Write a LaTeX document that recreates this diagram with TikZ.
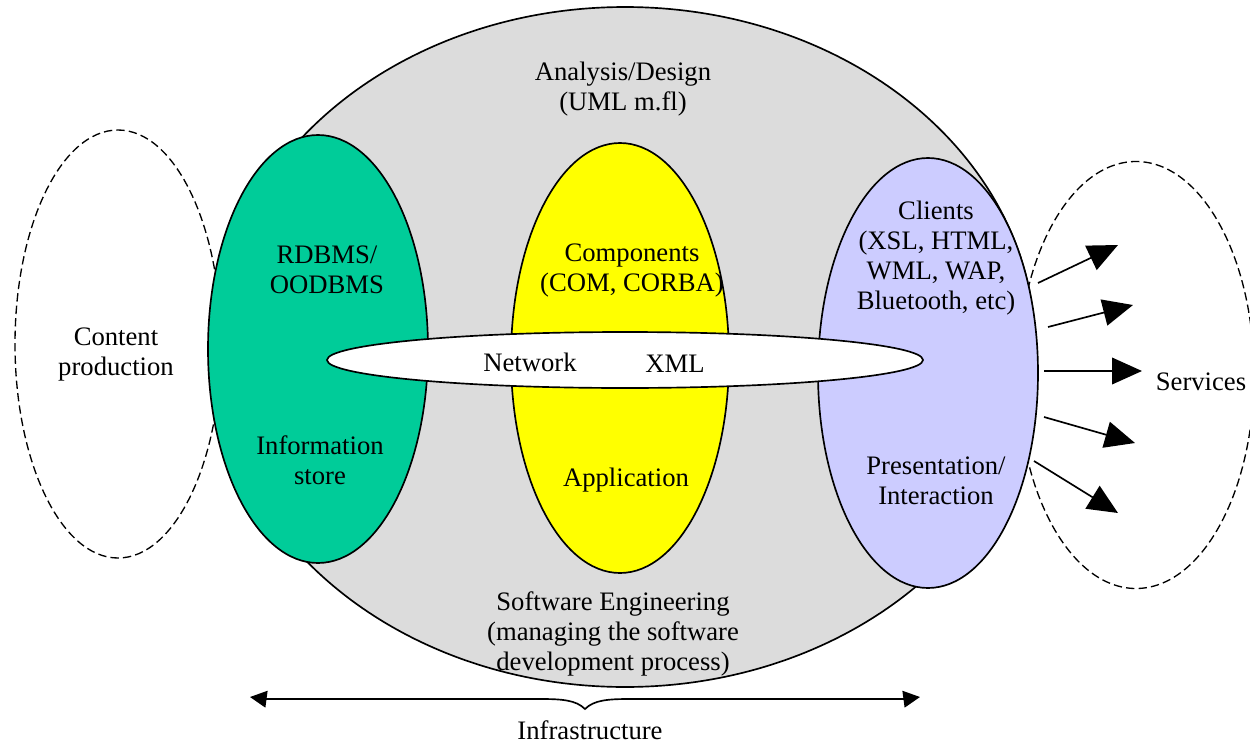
\documentclass[tikz,border=0pt]{standalone}
\usepackage{fontspec}
\setmainfont{Liberation Serif}
\usetikzlibrary{shapes.geometric,arrows.meta}
\definecolor{shellgrey}{RGB}{220,220,220}
\definecolor{storegreen}{RGB}{0,204,153}
\definecolor{appyellow}{RGB}{255,255,0}
\definecolor{clientblue}{RGB}{204,204,255}

\begin{document}
\begin{tikzpicture}[x=0.6pt,y=-0.6pt,
  blob/.style={ellipse,draw,line width=1pt,inner sep=0pt},
  cloud/.style={ellipse,draw,dash pattern=on 5pt off 2.5pt,line width=0.8pt,inner sep=0pt},
  lbl/.style={align=center,inner sep=0pt,font=\fontsize{16}{18}\selectfont},
  flow/.style={line width=1pt,-{Triangle[length=18pt,width=16pt]}},
  span/.style={line width=1pt,{Triangle[length=10pt,width=10pt]}-{Triangle[length=10pt,width=10pt]}}]
\useasboundingbox (0,0) rectangle (1250,743);

% outer dashed regions
\node[cloud,minimum width=123.6pt,minimum height=256.8pt] (content) at (118,344) {};
\node[cloud,minimum width=141.6pt,minimum height=256.2pt] (services) at (1136,375) {};

% software engineering shell
\node[blob,fill=shellgrey,minimum width=492pt,minimum height=408pt] (shell) at (625,347) {};

% three tiers
\node[blob,fill=storegreen,minimum width=132pt,minimum height=256.8pt] (store) at (318,349) {};
\node[blob,fill=appyellow,minimum width=130.8pt,minimum height=258pt] (app) at (620,358) {};
\node[blob,fill=clientblue,minimum width=132pt,minimum height=258pt] (client) at (928,373) {};

% network band
\node[blob,fill=white,minimum width=357.6pt,minimum height=33.6pt] (net) at (625,360) {};

% labels
\node[lbl] (design) at (623,89) {Analysis/Design\\(UML m.fl)};
\node[lbl] (dbms) at (327,270) {RDBMS/\\OODBMS};
\node[lbl] (info) at (320,460) {Information\\store};
\node[lbl] (comp) at (632,271) {Components\\(COM, CORBA)};
\node[lbl] (appl) at (626,480) {Application};
\node[lbl] (clients) at (936,258) {Clients\\(XSL, HTML,\\WML, WAP,\\Bluetooth, etc)};
\node[lbl] (pres) at (936,481) {Presentation/\\Interaction};
\node[lbl] (cprod) at (116,355) {Content\\production};
\node[lbl] (sweng) at (613,634) {Software Engineering\\(managing the software\\development process)};
\node[lbl] (netw) at (530,362) {Network};
\node[lbl] (xml) at (675,364) {XML};
\node[lbl] (serv) at (1201,382) {Services};

% service arrows
\coordinate (a1s) at (1038,283); \coordinate (a1e) at (1118,245);
\coordinate (a2s) at (1048,327); \coordinate (a2e) at (1133,305);
\coordinate (a3s) at (1044,371); \coordinate (a3e) at (1142,371);
\coordinate (a4s) at (1044,417); \coordinate (a4e) at (1135,443);
\coordinate (a5s) at (1034,461); \coordinate (a5e) at (1118,513);
\foreach \i in {1,...,5} \draw[flow] (a\i s) -- (a\i e);

% infrastructure brace
\coordinate (bl) at (250,697);
\coordinate (br) at (920,697);
\coordinate (btip) at (585,709);
\draw[span] (bl) -- (265,699) -- (540,699)
  .. controls (562,699) and (576,700) .. (btip)
  .. controls (594,700) and (608,699) .. (630,699) -- (905,699) -- (br);
\node[lbl] (infra) at (590,730) {Infrastructure};
\end{tikzpicture}
\end{document}
